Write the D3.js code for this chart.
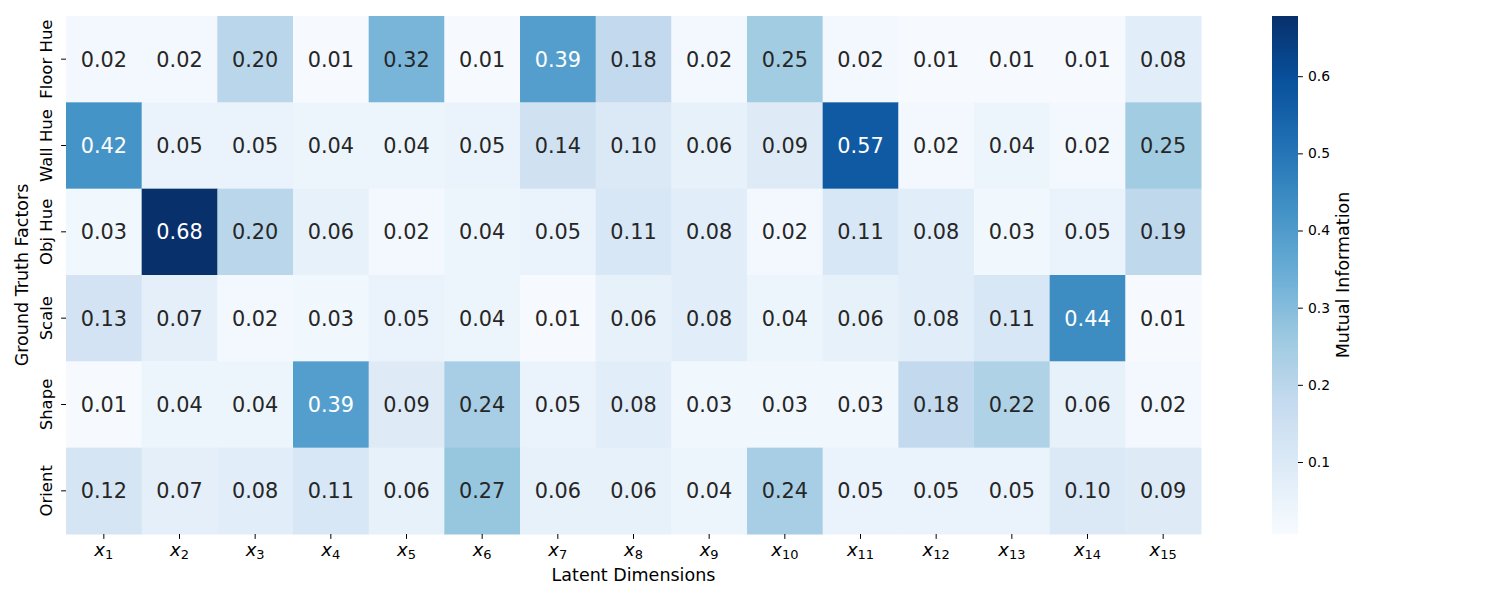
<!DOCTYPE html>
<html><head><meta charset="utf-8">
<script src="https://cdn.jsdelivr.net/npm/d3@7"></script>
<style>body{margin:0;background:#fff}text{font-family:"DejaVu Sans",sans-serif}</style>
</head><body><svg id="c" width="1500" height="600"></svg>
<script>
const factors = ["Floor Hue","Wall Hue","Obj Hue","Scale","Shape","Orient"];
const dims = d3.range(1,16).map(i=>String(i));
const floorHue = [0.02,0.02,0.20,0.01,0.32,0.01,0.39,0.18,0.02,0.25,0.02,0.01,0.01,0.01,0.08];
const wallHue  = [0.42,0.05,0.05,0.04,0.04,0.05,0.14,0.10,0.06,0.09,0.57,0.02,0.04,0.02,0.25];
const objHue   = [0.03,0.68,0.20,0.06,0.02,0.04,0.05,0.11,0.08,0.02,0.11,0.08,0.03,0.05,0.19];
const scaleRow = [0.13,0.07,0.02,0.03,0.05,0.04,0.01,0.06,0.08,0.04,0.06,0.08,0.11,0.44,0.01];
const shapeRow = [0.01,0.04,0.04,0.39,0.09,0.24,0.05,0.08,0.03,0.03,0.03,0.18,0.22,0.06,0.02];
const orientRow= [0.12,0.07,0.08,0.11,0.06,0.27,0.06,0.06,0.04,0.24,0.05,0.05,0.05,0.10,0.09];
const rows = [floorHue,wallHue,objHue,scaleRow,shapeRow,orientRow];
const cbTicks = [0.1,0.2,0.3,0.4,0.5,0.6];
const vmin = 0.0067, vmax = 0.678;

const blues = ["#f7fbff","#deebf7","#c6dbef","#9ecae1","#6baed6","#4292c6","#2171b5","#08519c","#08306b"];
const t2c = d3.scaleLinear().domain(d3.range(9).map(i=>i/8)).range(blues).interpolate(d3.interpolateRgb).clamp(true);
const color = v => t2c((v-vmin)/(vmax-vmin));

const svg = d3.select("#c");
const L=66,R=1201,T=16,B=534;
const x = d3.scaleBand().domain(dims).range([L,R]);
const y = d3.scaleBand().domain(factors).range([T,B]);

const cells = [];
rows.forEach((r,i)=>r.forEach((v,j)=>cells.push({f:factors[i],d:dims[j],v})));

function lum(c){const o=d3.rgb(c);const f=u=>{u/=255;return u<=0.03928?u/12.92:Math.pow((u+0.055)/1.055,2.4)};return 0.2126*f(o.r)+0.7152*f(o.g)+0.0722*f(o.b);}

svg.append("g").selectAll("rect").data(cells).join("rect")
 .attr("x",d=>x(d.d)).attr("y",d=>y(d.f)).attr("width",x.bandwidth()+0.5).attr("height",y.bandwidth()+0.5)
 .attr("fill",d=>color(d.v));
svg.append("g").selectAll("text").data(cells).join("text")
 .attr("x",d=>x(d.d)+x.bandwidth()/2).attr("y",d=>y(d.f)+y.bandwidth()/2+7.5)
 .attr("text-anchor","middle")
 .attr("font-size",20.8).attr("fill",d=>lum(color(d.v))>0.408?"#262626":"#ffffff")
 .text(d=>d.v.toFixed(2));

// x axis
const xa = svg.append("g");
dims.forEach(d=>{
  const cx=x(d)+x.bandwidth()/2;
  xa.append("line").attr("x1",cx).attr("x2",cx).attr("y1",B).attr("y2",B+4.9).attr("stroke","#000").attr("stroke-width",1);
  const t=xa.append("text").attr("x",cx).attr("y",556).attr("text-anchor","middle").attr("fill","#000");
  t.append("tspan").attr("font-style","italic").attr("font-size",18).text("x");
  t.append("tspan").attr("font-size",13).attr("dy",3).text(d);
});
svg.append("text").attr("x",(L+R)/2).attr("y",581).attr("text-anchor","middle").attr("font-size",17.5).attr("fill","#000").text("Latent Dimensions");

// y axis
const ya = svg.append("g");
factors.forEach(f=>{
  const cy=y(f)+y.bandwidth()/2;
  ya.append("line").attr("x1",L-4.9).attr("x2",L).attr("y1",cy).attr("y2",cy).attr("stroke","#000");
  ya.append("text").attr("transform",`translate(52,${cy}) rotate(-90)`).attr("text-anchor","middle").attr("font-size",16.5).attr("fill","#000").text(f);
});
svg.append("text").attr("transform",`translate(28,${(T+B)/2}) rotate(-90)`).attr("text-anchor","middle").attr("font-size",17.5).attr("fill","#000").text("Ground Truth Factors");

// colorbar
const cbx=1272, cbw=26;
const cy = d3.scaleLinear().domain([vmin,vmax]).range([B,T]);
const grad = svg.append("defs").append("linearGradient").attr("id","g").attr("x1",0).attr("x2",0).attr("y1",1).attr("y2",0);
d3.range(0,1.0001,0.02).forEach(t=>grad.append("stop").attr("offset",t).attr("stop-color",t2c(t)));
svg.append("rect").attr("x",cbx).attr("y",T).attr("width",cbw).attr("height",B-T).attr("fill","url(#g)");
const cba = svg.append("g").attr("transform",`translate(${cbx+cbw},0)`)
 .call(d3.axisRight(cy).tickValues(cbTicks).tickSize(4.9).tickPadding(5).tickFormat(d3.format(".1f")));
cba.select(".domain").remove();
cba.selectAll("text").attr("font-size",13.9).attr("font-family","DejaVu Sans").attr("fill","#000");
svg.append("text").attr("transform",`translate(1349,${(T+B)/2}) rotate(-90)`).attr("text-anchor","middle").attr("font-size",17.5).attr("fill","#000").text("Mutual Information");
</script></body></html>
